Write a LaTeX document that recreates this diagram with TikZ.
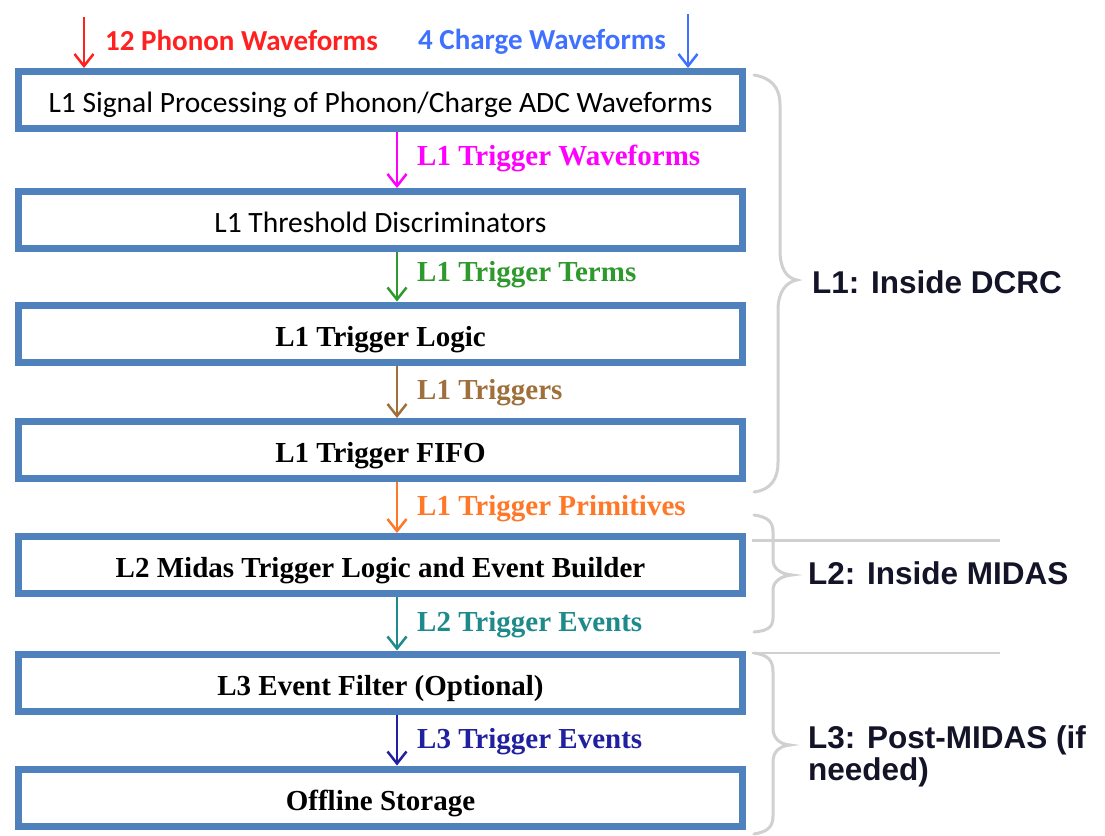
\documentclass[tikz,border=0pt]{standalone}
\usepackage{fontspec}
\setmainfont{Liberation Serif}
\newfontfamily\calib{Carlito}
\newfontfamily\arialf{Liberation Sans}
\usetikzlibrary{arrows.meta}
\definecolor{boxblue}{HTML}{4F81BD}
\definecolor{bracegray}{HTML}{D0D0D0}
\definecolor{cmag}{HTML}{FF00FF}
\definecolor{cgreen}{HTML}{2E9A2E}
\definecolor{cbrown}{HTML}{A0703C}
\definecolor{corange}{HTML}{FF7828}
\definecolor{cteal}{HTML}{1E8A8A}
\definecolor{cnavy}{HTML}{2020A0}
\definecolor{cred}{HTML}{FF2020}
\definecolor{cblue}{HTML}{4070FF}
\definecolor{textdark}{HTML}{141428}
\begin{document}
\begin{tikzpicture}[x=1pt,y=-1pt,
  stagebox/.style={draw=boxblue, line width=7pt, fill=white, minimum width=724pt, minimum height=57pt, inner sep=0pt, text=black, text height=27pt, text depth=2pt},
  flow/.style={line width=2.5pt, -{Straight Barb[length=12pt,width=19pt,line width=2.5pt]}},
  flowlbl/.style={anchor=west, inner sep=0pt, font=\fontsize{29}{32}\selectfont\bfseries},
  toplbl/.style={anchor=west, inner sep=0pt, font=\calib\fontsize{29}{32}\selectfont\bfseries},
  sidelbl/.style={anchor=west, inner sep=0pt, align=left, text=textdark, font=\arialf\fontsize{31.5}{32}\selectfont\bfseries},
  bracestyle/.style={draw=bracegray, line width=3pt},
  calibtxt/.style={font=\calib\fontsize{29.5}{32}\selectfont},
  timestxt/.style={font=\fontsize{29}{32}\selectfont\bfseries}
]
\useasboundingbox (0,0) rectangle (1105,835);
\fill[white] (0,0) rectangle (1105,835);

% gray artefact lines
\draw[bracegray, line width=3pt] (752,540) -- (1000,540);
\draw[bracegray, line width=2pt] (752,653) -- (1000,653);

% boxes
\node[stagebox, calibtxt] (b1) at (380.5,100) {L1 Signal Processing of Phonon/Charge ADC Waveforms};
\node[stagebox, calibtxt] (b2) at (380.5,220) {L1 Threshold Discriminators};
\node[stagebox, timestxt] (b3) at (380.5,333.5) {L1 Trigger Logic};
\node[stagebox, timestxt] (b4) at (380.5,450) {L1 Trigger FIFO};
\node[stagebox, timestxt] (b5) at (380.5,565) {L2 Midas Trigger Logic and Event Builder};
\node[stagebox, timestxt] (b6) at (380.5,682.5) {L3 Event Filter (Optional)};
\node[stagebox, timestxt] (b7) at (380.5,797.5) {Offline Storage};

% input arrows
\coordinate (inred) at (84,17);
\coordinate (inblue) at (688,14);
\draw[flow, cred] (inred) -- (inred |- b1.north);
\draw[flow, cblue] (inblue) -- (inblue |- b1.north);
\node[toplbl, text=cred] (t1) at (105,40) {12 Phonon Waveforms};
\node[toplbl, text=cblue] (t2) at (418,42) {4 Charge Waveforms};

% flow arrows
\foreach \a/\b/\c/\t/\y in {b1/b2/cmag/L1 Trigger Waveforms/158,
                           b2/b3/cgreen/L1 Trigger Terms/275,
                           b3/b4/cbrown/L1 Triggers/393,
                           b4/b5/corange/L1 Trigger Primitives/509,
                           b5/b6/cteal/L2 Trigger Events/625,
                           b6/b7/cnavy/L3 Trigger Events/742}{
  \draw[flow, \c] ([xshift=16.5pt]\a.south) -- ([xshift=16.5pt]\b.north);
  \node[flowlbl, text=\c] at (417,\y) {\t};
}

% braces
\draw[bracestyle, line cap=round] (754,75) .. controls (772,78) and (780,88) .. (780,105)
  -- (780,250) .. controls (780,268) and (786,278) .. (797,280)
  .. controls (786,282) and (778,292) .. (778,310)
  -- (778,462) .. controls (778,480) and (770,490) .. (754,492);
\draw[bracestyle, line cap=round] (754,515) .. controls (768,517) and (773,522) .. (773,532)
  -- (773,560) .. controls (773,568) and (780,574) .. (792,575)
  .. controls (780,576) and (773,582) .. (773,590)
  -- (773,618) .. controls (773,628) and (766,631) .. (754,632);
\draw[bracestyle, line cap=round] (754,653) .. controls (768,655) and (773,660) .. (773,672)
  -- (773,728) .. controls (773,738) and (779,744) .. (790,745)
  .. controls (779,746) and (773,752) .. (773,762)
  -- (773,816) .. controls (773,828) and (766,832) .. (754,834);

\node[sidelbl] (s1) at (812,282) {L1: Inside DCRC};
\node[sidelbl] (s2) at (808,573) {L2: Inside MIDAS};
\node[sidelbl] (s3) at (808,756) {L3: Post-MIDAS (if\\needed)};
\end{tikzpicture}
\end{document}
